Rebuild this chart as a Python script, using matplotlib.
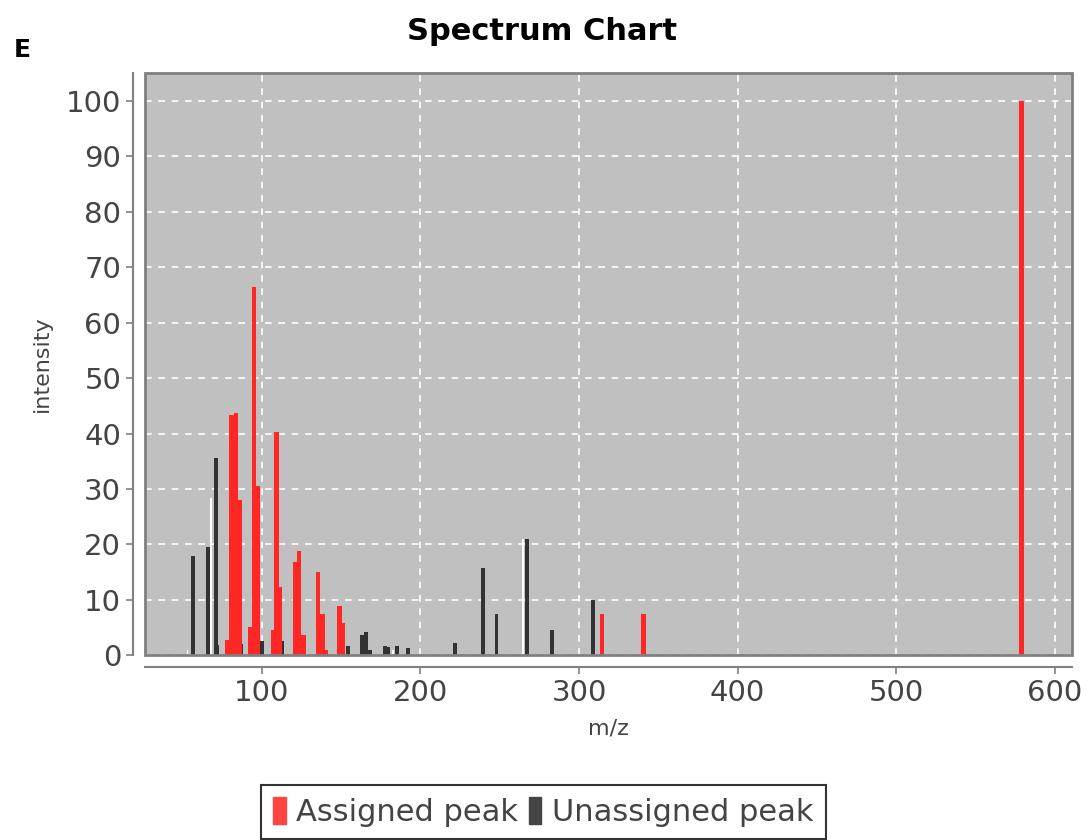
import matplotlib.pyplot as plt
from matplotlib.patches import Rectangle

# peak lists (m/z, relative intensity)
assigned_mz = [78.5, 81, 83.6, 86, 92.4, 95, 97, 107, 109.4, 111, 121, 123.3, 126,
               135.4, 138, 140, 149, 151, 314.5, 340.5, 579, 579.4]
assigned_int = [2.7, 43.3, 43.7, 28, 5, 66.4, 30.5, 4.5, 40.2, 12.3, 16.8, 18.8, 3.6,
                15, 7.5, 1, 8.8, 5.8, 7.4, 7.4, 100, 17]

unassigned_mz = [56.6, 66, 71, 72, 87, 100, 113, 154.5, 163, 165.5, 168, 177.6, 179.5,
                 185, 192, 222, 239.5, 248, 267, 283, 309]
unassigned_int = [17.9, 19.5, 35.6, 1.8, 2, 2.5, 2.6, 1.6, 3.6, 4.2, 1, 1.6, 1.4,
                  1.6, 1.3, 2.2, 15.7, 7.4, 21, 4.6, 10]

# thin white lines visible in the chart
other_mz = [53, 68, 84.5, 182.6, 264.8]
other_int = [1, 28.3, 28.3, 1, 21]

xticks = [100, 200, 300, 400, 500, 600]
yticks = list(range(0, 101, 10))

red = '#ff2626'
dark = '#333333'
grey = '#808080'

fig = plt.figure(figsize=(10.9, 8.4), dpi=100)
ax = fig.add_axes([0.133, 0.22, 0.8505, 0.693])
ax.set_facecolor('#c0c0c0')

ax.bar(other_mz, other_int, width=1.2, color='white', zorder=2)
ax.bar(unassigned_mz, unassigned_int, width=2.4, color=dark, zorder=3)
ax.bar(assigned_mz, assigned_int, width=3.0, color=red, zorder=4)

ax.set_xlim(26.2, 611)
ax.set_ylim(0, 105.05)
ax.set_xticks(xticks)
ax.set_yticks(yticks)
ax.grid(True, color='white', linestyle=(0, (4, 4)), linewidth=1.2, zorder=1)
ax.set_axisbelow(True)

# plot frame + offset axis lines (jfreechart look)
for s in ['top', 'right']:
    ax.spines[s].set_visible(False)
for s in ['left', 'bottom']:
    ax.spines[s].set_position(('outward', 8.6))
    ax.spines[s].set_color(grey)
    ax.spines[s].set_linewidth(1.5)
ax.add_patch(Rectangle((0, 0), 1, 1, transform=ax.transAxes, fill=False,
                       edgecolor=grey, linewidth=2, zorder=5, clip_on=False))

ax.tick_params(axis='both', colors=grey, length=5, width=1.2, labelsize=21,
               labelcolor='#444444')

ax.set_xlabel('m/z', fontsize=16, color='#444444', labelpad=8)
ax.set_ylabel('intensity', fontsize=16, color='#444444', labelpad=10)

fig.text(0.497, 0.963, 'Spectrum Chart', ha='center', va='center',
         fontsize=22, fontweight='bold')
fig.text(0.013, 0.94, 'E', ha='left', va='center', fontsize=18, fontweight='bold')

handles = [Rectangle((0, 0), 1, 1, color='#ff4444'),
           Rectangle((0, 0), 1, 1, color='#444444')]
leg = fig.legend(handles, ['Assigned peak', 'Unassigned peak'], loc='upper center',
                 bbox_to_anchor=(0.4985, 0.066), ncol=2, fontsize=22, frameon=True,
                 fancybox=False, edgecolor='black', handlelength=0.4,
                 handleheight=1.0, handletextpad=0.35, columnspacing=0.35,
                 borderpad=0.4, borderaxespad=0, labelcolor='#444444')
leg.get_frame().set_linewidth(1.5)

fig.savefig('out.png', dpi=100)
